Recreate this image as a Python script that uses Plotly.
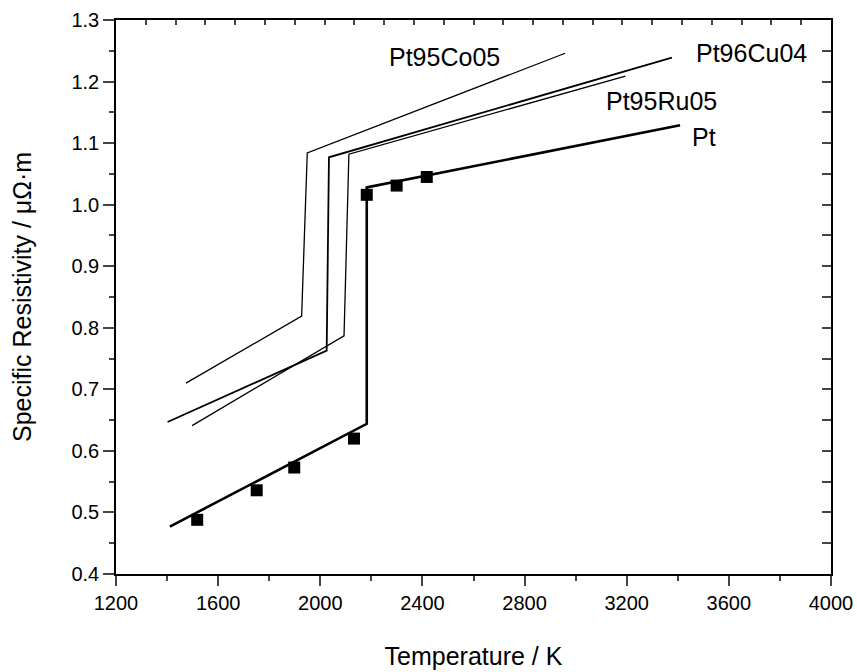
import plotly.graph_objects as go

# ---- data ----
pt_T = [1411, 2182, 2182, 3409]
pt_rho = [0.477, 0.644, 1.028, 1.129]

co_T = [1474, 1927, 1949, 2959]
co_rho = [0.710, 0.819, 1.084, 1.246]

cu_T = [1402, 2025, 2034, 3377]
cu_rho = [0.647, 0.763, 1.077, 1.239]

ru_T = [1498, 2093, 2112, 3195]
ru_rho = [0.641, 0.787, 1.082, 1.209]

exp_T = [1518, 1751, 1898, 2132, 2182, 2299, 2417]
exp_rho = [0.488, 0.536, 0.573, 0.620, 1.016, 1.031, 1.045]

labels = ["Pt95Co05", "Pt96Cu04", "Pt95Ru05", "Pt"]
label_T = [2488, 3690, 3338, 3504]
label_rho = [1.240, 1.246, 1.169, 1.110]

FONT = "Liberation Sans, Arial, sans-serif"

fig = go.Figure()
fig.add_trace(go.Scatter(x=co_T, y=co_rho, mode="lines", line=dict(color="black", width=1.3), showlegend=False))
fig.add_trace(go.Scatter(x=cu_T, y=cu_rho, mode="lines", line=dict(color="black", width=1.8), showlegend=False))
fig.add_trace(go.Scatter(x=ru_T, y=ru_rho, mode="lines", line=dict(color="black", width=1.3), showlegend=False))
fig.add_trace(go.Scatter(x=pt_T, y=pt_rho, mode="lines", line=dict(color="black", width=2.6), showlegend=False))
fig.add_trace(go.Scatter(x=exp_T, y=exp_rho, mode="markers",
                         marker=dict(symbol="square", size=12, color="black"), showlegend=False))
# dummy trace to activate the top/right tick axes
fig.add_trace(go.Scatter(x=[0], y=[0.4], xaxis="x2", yaxis="y2", mode="markers",
                         marker=dict(opacity=0), hoverinfo="skip", showlegend=False))

for txt, tx, ty in zip(labels, label_T, label_rho):
    fig.add_annotation(x=tx, y=ty, text=txt, showarrow=False,
                       font=dict(family=FONT, size=25, color="black"))

fig.update_layout(
    width=857, height=672,
    margin=dict(l=116, r=26, t=20, b=98),
    paper_bgcolor="white", plot_bgcolor="white",
    font=dict(family=FONT, color="black"),
    xaxis=dict(range=[1200, 4000], tick0=1200, dtick=400, ticks="outside", ticklen=10, tickwidth=1.5,
               minor=dict(dtick=200, ticks="outside", ticklen=5, tickwidth=1.5),
               showline=True, linewidth=1.5, linecolor="black", mirror=True, showgrid=False, zeroline=False,
               tickfont=dict(size=20), automargin=False,
               title=dict(text="Temperature / K", font=dict(size=25), standoff=35)),
    yaxis=dict(range=[0.4, 1.3], tick0=0.4, dtick=0.1, tickformat=".1f", ticks="outside", ticklen=11, tickwidth=1.5,
               minor=dict(dtick=0.05, ticks="outside", ticklen=5, tickwidth=1.5),
               showline=True, linewidth=1.5, linecolor="black", mirror=True, showgrid=False, zeroline=False,
               tickfont=dict(size=20), automargin=False,
               title=dict(text="Specific Resistivity / μΩ·m", font=dict(size=25), standoff=33)),
    xaxis2=dict(overlaying="x", side="top", range=[0, 24], dtick=1, ticks="inside", ticklen=5, tickwidth=1.5,
                showticklabels=False, showline=False, showgrid=False, zeroline=False),
    yaxis2=dict(overlaying="y", side="right", range=[0.4, 1.3], dtick=0.05, tick0=0.4, ticks="inside", ticklen=9,
                tickwidth=1.5, showticklabels=False, showline=False, showgrid=False, zeroline=False),
)

fig.write_html("out.html")
